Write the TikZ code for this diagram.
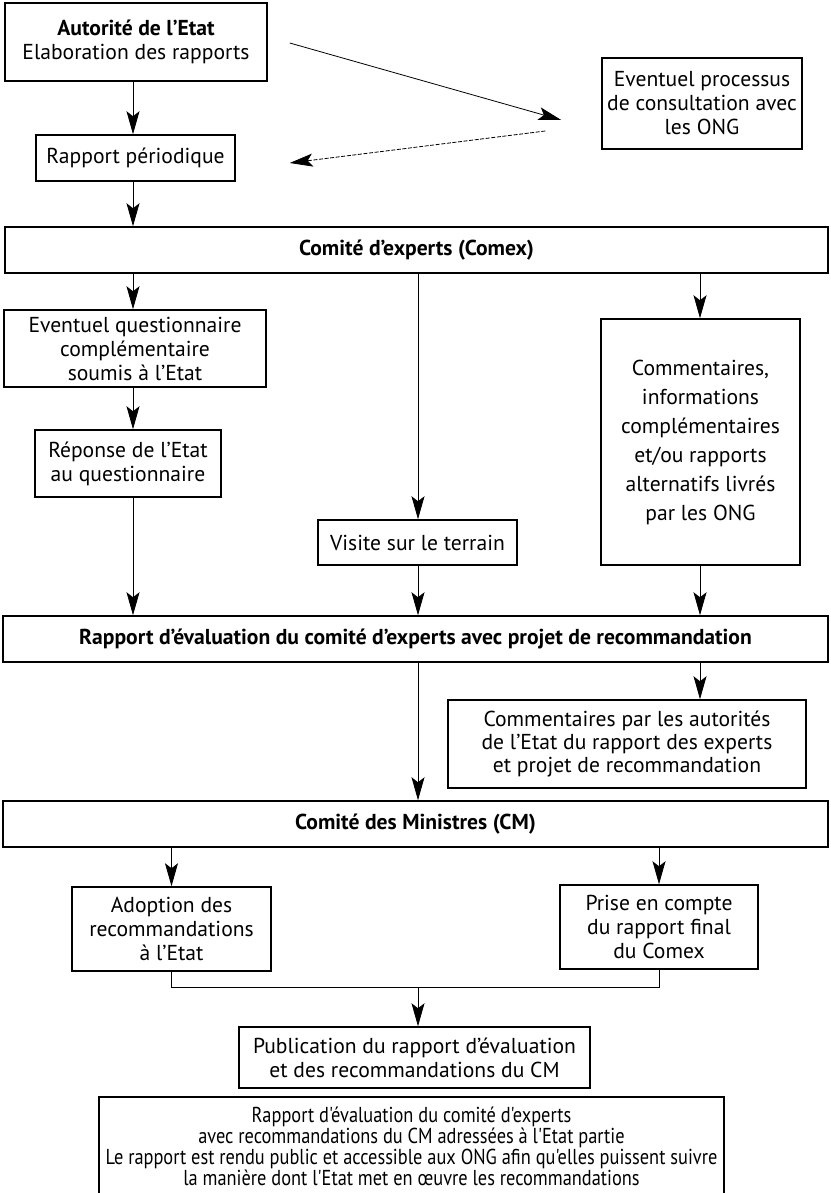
\documentclass[tikz,border=0pt]{standalone}
\usepackage{fontspec}
\setmainfont{PT Sans}
\newfontfamily\narrowfont[FakeStretch=0.85]{PT Sans}
\usetikzlibrary{arrows.meta,calc,positioning}

\begin{document}
\begin{tikzpicture}[x=0.5pt, y=-0.5pt, >={Stealth[length=11.5pt,width=6.5pt,inset=2.5pt]}, thin,
    box/.style={draw, line width=0.75pt, align=center, inner sep=0pt, font=\fontsize{10.8}{12}\selectfont}]
    \useasboundingbox (0,0) rectangle (830,1193);
    \coordinate (colA) at (133,0);
    \coordinate (colB) at (418,0);
    \coordinate (colC) at (700,0);
    \coordinate (join) at (418,987);

    \node[box, minimum width=131pt,   minimum height=39pt]   (auto)        at (136,42)      {\textbf{Autorité de l'Etat}\\Elaboration des rapports};
    \node[box, minimum width=99.5pt,  minimum height=23pt]   (rapport)     at (135.5,158)   {Rapport périodique};
    \node[box, minimum width=100pt,   minimum height=45.5pt] (ong)         at (702,103.5)   {Eventuel processus\\de consultation avec\\les ONG};
    \node[box, minimum width=411.5pt, minimum height=23pt]   (comex)       at (416.5,250)   {\textbf{Comité d'experts (Comex)}};
    \node[box, minimum width=131pt,   minimum height=38.5pt] (question)    at (135,348.5)   {Eventuel questionnaire\\complémentaire\\soumis à l'Etat};
    \node[box, minimum width=93pt,    minimum height=33.5pt] (reponse)     at (128,463.5)   {Réponse de l'Etat\\au questionnaire};
    \node[box, minimum width=99.5pt,  minimum height=22.5pt] (visite)      at (417.5,542.5) {Visite sur le terrain};
    \node[box, minimum width=99.5pt,  minimum height=123pt,
          font=\fontsize{10.8}{14.5}\selectfont]             (ongcom)      at (700.5,442)   {Commentaires,\\informations\\complémentaires\\et/ou rapports\\alternatifs livrés\\par les ONG};
    \node[box, minimum width=412.5pt, minimum height=23pt]   (evaluation)  at (415.5,639)   {\textbf{Rapport d'évaluation du comité d'experts avec projet de recommandation}};
    \node[box, minimum width=179pt,   minimum height=44pt,
          font=\fontsize{10.8}{11.5}\selectfont]             (autcom)      at (627,744)     {Commentaires par les autorités\\de l'Etat du rapport des experts\\et projet de recommandation};
    \node[box, minimum width=412.5pt, minimum height=23pt]   (cm)          at (415.5,824)   {\textbf{Comité des Ministres (CM)}};
    \node[box, minimum width=99.5pt,  minimum height=42pt]   (adoption)    at (171.5,929)   {Adoption des\\recommandations\\à l'Etat};
    \node[box, minimum width=99pt,    minimum height=42pt]   (prise)       at (659,927)     {Prise en compte\\du rapport final\\du Comex};
    \node[box, minimum width=175.5pt, minimum height=30.5pt] (publication) at (414.5,1057.5){Publication du rapport d'évaluation\\et des recommandations du CM};
    \node[box, minimum width=312.5pt, minimum height=49.5pt,
          font=\narrowfont\fontsize{10.8}{10.5}\selectfont]  (final)       at (411.5,1146.5){Rapport d'évaluation du comité d'experts\\avec recommandations du CM adressées à l'Etat partie\\Le rapport est rendu public et accessible aux ONG afin qu'elles puissent suivre\\la manière dont l'Etat met en œuvre les recommandations};

    % consultation des ONG
    \draw[->] ($(auto.east)+(22,1)$) -- ($(ong.west)+(-40,16.5)$);
    \draw[->, dash pattern=on 2pt off 0.8pt] ($(ong.west)+(-56,27.5)$) -- ($(rapport.east)+(54,5)$);

    \path[->] (auto.south -| colA)       edge (rapport.north -| colA)
              (rapport.south -| colA)    edge (comex.north -| colA)
              (comex.south -| colA)      edge (question.north -| colA)
              (question.south -| colA)   edge (reponse.north -| colA)
              (reponse.south -| colA)    edge (evaluation.north -| colA)
              (comex.south -| colB)      edge (visite.north -| colB)
              (visite.south -| colB)     edge (evaluation.north -| colB)
              (comex.south -| colC)      edge (ongcom.north -| colC)
              (ongcom.south -| colC)     edge (evaluation.north -| colC)
              (evaluation.south -| colB) edge (cm.north -| colB)
              (evaluation.south -| colC) edge (autcom.north -| colC)
              (cm.south -| adoption)     edge (adoption.north)
              (cm.south -| prise)        edge (prise.north)
              (join)                     edge (publication.north -| join);

    \draw (adoption.south) |- (join) -| (prise.south);
\end{tikzpicture}
\end{document}
